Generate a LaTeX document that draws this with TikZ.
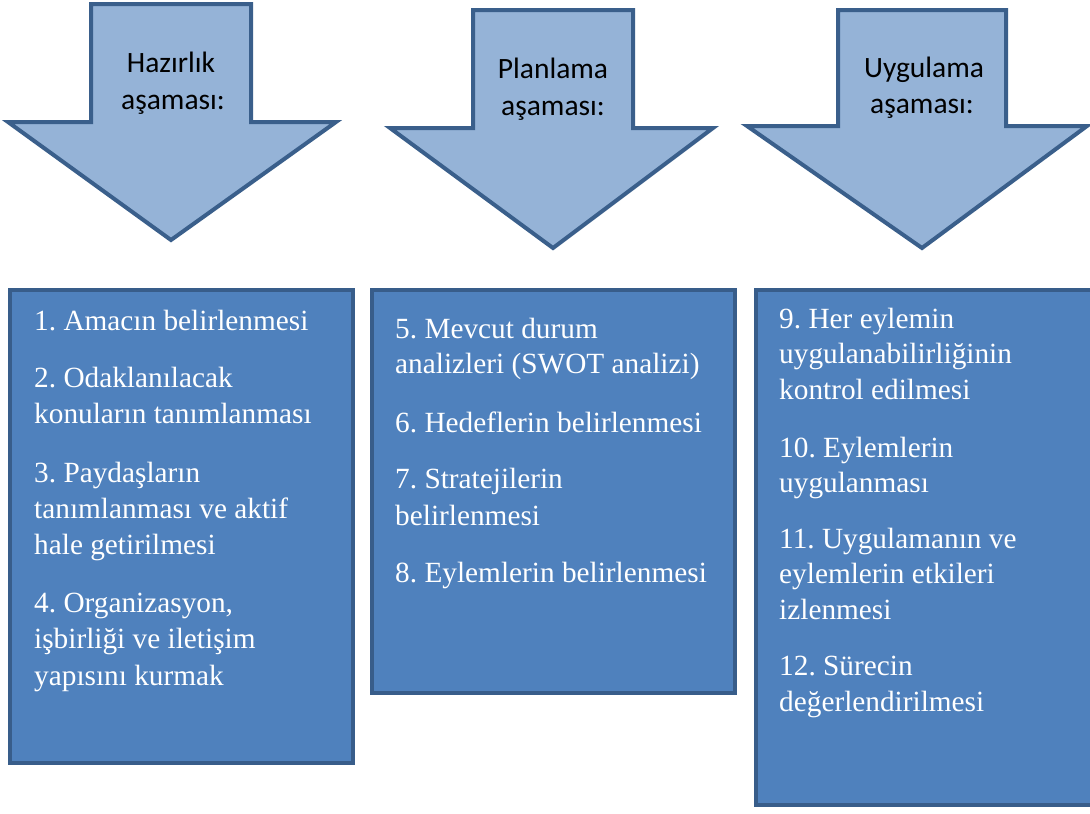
\documentclass[tikz,border=0pt]{standalone}
\usepackage{fontspec}
\setmainfont{Liberation Serif}
\newfontfamily\calibri{Carlito}
\definecolor{arrowfill}{HTML}{95B3D7}
\definecolor{arrowline}{HTML}{3A5F8B}
\definecolor{boxfill}{HTML}{4F81BD}
\definecolor{boxline}{HTML}{385D8A}
\frenchspacing
\begin{document}
\begin{tikzpicture}[x=1pt,y=-1pt,
  bigarrow/.style={fill=arrowfill,draw=arrowline,line width=4pt,line join=miter},
  stagebox/.style={fill=boxfill,draw=boxline,line width=4pt},
  txt/.style={anchor=base west,inner sep=0pt,text=white,font=\fontsize{29.3}{36}\selectfont},
  lbl/.style={anchor=base,inner sep=0pt,text=black,font=\calibri\fontsize{29.5}{36}\selectfont}]
\useasboundingbox (0,0) rectangle (1090,814);
% arrows
\draw[bigarrow] (91,4) -- (251,4) -- (251,122) -- (336,122) -- (171,240) -- (8,122) -- (91,122) -- cycle;
\draw[bigarrow] (473,10) -- (633,10) -- (633,128) -- (713,128) -- (553,248) -- (390,128) -- (473,128) -- cycle;
\draw[bigarrow] (838,10) -- (1006,10) -- (1006,126) -- (1087,126) -- (922,248) -- (747,126) -- (838,126) -- cycle;
\node[lbl] (a1a) at (171,72) {Hazırlık};
\node[lbl] (a1b) at (173,109) {aşaması:};
\node[lbl] (a2a) at (553,78) {Planlama};
\node[lbl] (a2b) at (553,115) {aşaması:};
\node[lbl] (a3a) at (924,77) {Uygulama};
\node[lbl] (a3b) at (922,113) {aşaması:};
% boxes
\draw[stagebox] (10,290) rectangle (353,763);
\draw[stagebox] (372,290) rectangle (735,693);
\fill[boxfill] (756,290) rectangle (1090,805);
\draw[draw=boxline,line width=4pt] (1090,290) -- (756,290) -- (756,805) -- (1090,805);
% box 1 text
\node[txt] (b1l1) at (34,330) {1. Amacın belirlenmesi};
\node[txt] (b1l2) at (34,387) {2. Odaklanılacak};
\node[txt] (b1l3) at (34,423) {konuların tanımlanması};
\node[txt] (b1l4) at (34,482) {3. Paydaşların};
\node[txt] (b1l5) at (34,518) {tanımlanması ve aktif};
\node[txt] (b1l6) at (34,554) {hale getirilmesi};
\node[txt] (b1l7) at (34,612) {4. Organizasyon,};
\node[txt] (b1l8) at (34,648) {işbirliği ve iletişim};
\node[txt] (b1l9) at (34,685) {yapısını kurmak};
% box 2 text
\node[txt] (b2l1) at (395,338) {5. Mevcut durum};
\node[txt] (b2l2) at (395,373) {analizleri (SWOT analizi)};
\node[txt] (b2l3) at (395,432) {6. Hedeflerin belirlenmesi};
\node[txt] (b2l4) at (395,488) {7. Stratejilerin};
\node[txt] (b2l5) at (395,525) {belirlenmesi};
\node[txt] (b2l6) at (395,582) {8. Eylemlerin belirlenmesi};
% box 3 text
\node[txt] (b3l1) at (779,328) {9. Her eylemin};
\node[txt] (b3l2) at (779,363) {uygulanabilirliğinin};
\node[txt] (b3l3) at (779,399) {kontrol edilmesi};
\node[txt] (b3l4) at (779,457) {10. Eylemlerin};
\node[txt] (b3l5) at (779,492) {uygulanması};
\node[txt] (b3l6) at (779,548) {11. Uygulamanın ve};
\node[txt] (b3l7) at (779,583) {eylemlerin etkileri};
\node[txt] (b3l8) at (779,619) {izlenmesi};
\node[txt] (b3l9) at (779,675) {12. Sürecin};
\node[txt] (b3l10) at (779,711) {değerlendirilmesi};
\end{tikzpicture}
\end{document}
